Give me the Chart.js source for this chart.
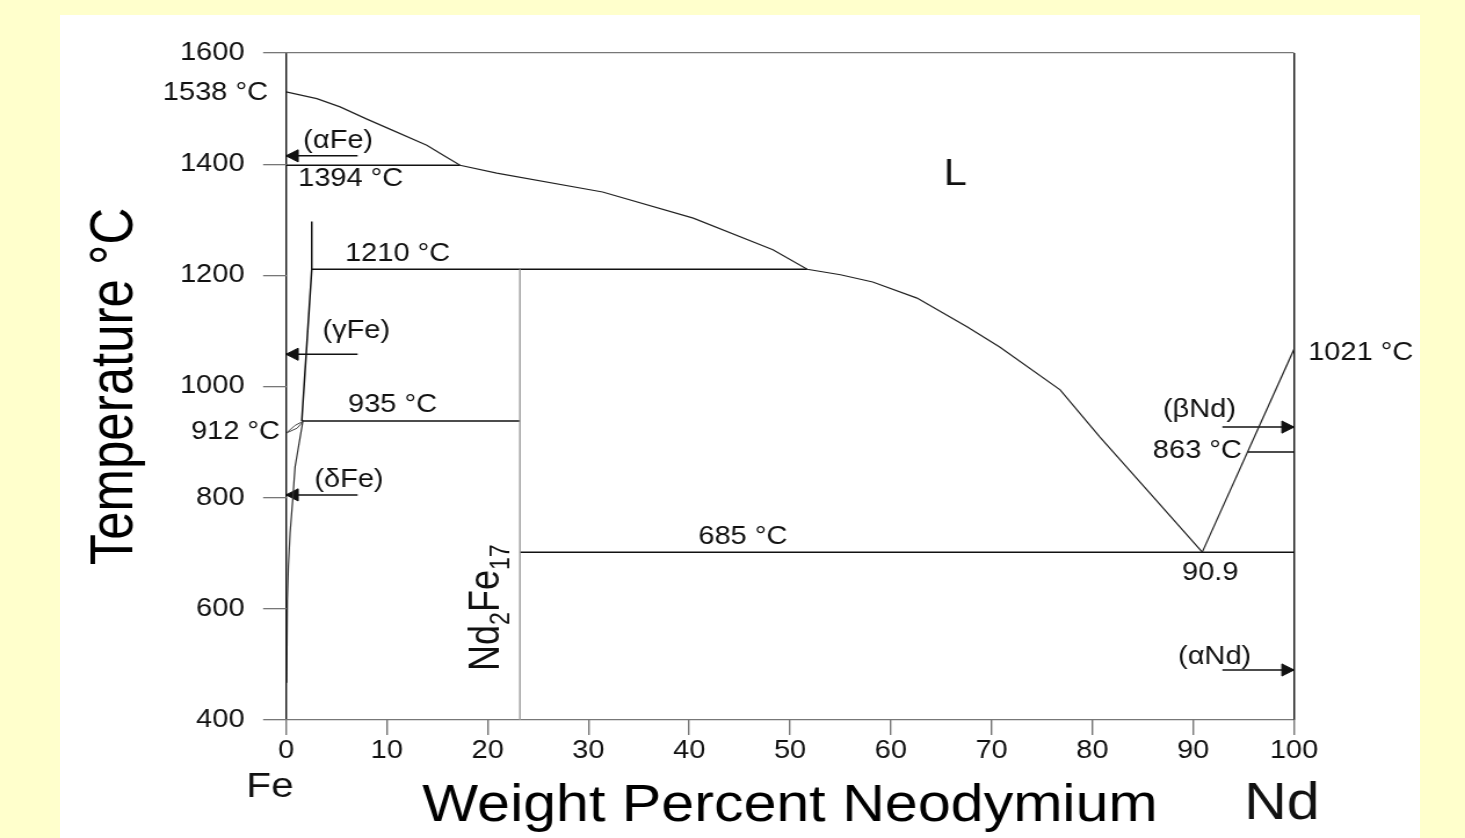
<!DOCTYPE html>
<html>
<head>
<meta charset="utf-8">
<title>Fe-Nd phase diagram</title>
<script src="https://cdn.jsdelivr.net/npm/chart.js@4.4.1/dist/chart.umd.min.js"></script>
<style>
  html, body { margin: 0; padding: 0; background: #ffffcc; width: 1465px; height: 838px; overflow: hidden; }
  #panel { position: absolute; left: 60px; top: 15px; width: 1360px; height: 823px; background: #fff; }
  /* the source figure is stretched sideways, so the canvas is too */
  #chart { position: absolute; left: 0; top: 0; width: 1263px; height: 838px; transform: scaleX(1.16); transform-origin: 0 0; }
</style>
</head>
<body>
<div id="panel"></div>
<canvas id="chart" width="1263" height="838"></canvas>
<script>
// liquidus, Fe side down to the eutectic
const liquidusX = [0, 3.05, 5.36, 8.02, 10.3, 13.96, 15.6, 17.26, 20.9, 31.4, 40.4, 48.3, 51.7, 55.0, 58.2, 62.6, 67.6, 70.8, 76.8, 80.75, 85.7, 90.9];
const liquidusY = [1530, 1518, 1503, 1481, 1463, 1434, 1416, 1398, 1384, 1350, 1303, 1246, 1211, 1201, 1188, 1159, 1107, 1071, 994, 909, 808, 702];
// liquidus, Nd side
const ndLiquidusX = [90.9, 100];
const ndLiquidusY = [702, 1067];
// (gammaFe) boundary
const gammaX = [2.55, 2.55, 1.56];
const gammaY = [1297, 1211, 938];
// lower Fe boundary
const deltaX = [1.69, 0.89, 0.66, 0.40, 0.23, 0.13, 0.07];
const deltaY = [940, 855, 796, 737, 676, 616, 467];
// small lens at 912
const lensUpperX = [0, 0.89, 1.75];
const lensUpperY = [916, 930, 938];
const lensLowerX = [0, 1.09, 1.75];
const lensLowerY = [916, 925, 938];

// horizontal isotherms
const isoTemp = [1398, 1211, 938, 702, 882];
const isoFrom = [0, 2.55, 1.6, 23.2, 95.4];
const isoTo = [17.26, 51.7, 23.2, 100, 100];

// Nd2Fe17 line compound
const compoundWt = 23.2;
const compoundTemps = [1211, 400];

// arrows to the terminal phases
const arrowFrom = [7.1, 7.1, 7.1, 92.9, 92.9];
const arrowTo = [0, 0, 0, 100, 100];
const arrowTemp = [1415, 1058, 805, 927, 490];

// text labels
const labelText = ['1538 °C', '(αFe)', '1394 °C', 'L', '1210 °C', '(γFe)', '935 °C', '912 °C', '(δFe)',
  '685 °C', '90.9', '(βNd)', '863 °C', '1021 °C', '(αNd)', 'Fe', 'Nd'];
const labelX = [-1.8, 1.7, 1.2, 66.4, 5.85, 3.6, 6.15, -0.6, 2.8, 40.9, 91.7, 87.0, 86.0, 101.4, 88.5, -1.6, 98.8];
const labelY = [1528, 1442, 1373, 1380, 1238, 1100, 967, 918, 832, 729, 664, 958, 884, 1060, 513, 278, 247];
const compoundLabelX = 19.64;
const compoundLabelY = 602;

const FONT = '"Liberation Sans", Arial, sans-serif';
const labelAlign = { '1538 °C': 'right', '912 °C': 'right', 'L': 'center', '90.9': 'center', 'Fe': 'center', 'Nd': 'center' };
const labelSize = { 'L': 36, 'Fe': 35, 'Nd': 51 };
const headInset = 0.8;

Chart.defaults.font.family = FONT;
Chart.defaults.color = '#111';

function lineSet(xs, ys, color, width) {
  return {
    data: xs.map((v, i) => ({ x: v, y: ys[i] })),
    showLine: true,
    borderColor: color,
    borderWidth: width,
    pointRadius: 0,
    fill: false
  };
}

const datasets = [
  lineSet(liquidusX, liquidusY, '#222', 1.2),
  lineSet(ndLiquidusX, ndLiquidusY, '#222', 1.2),
  lineSet(gammaX, gammaY, '#111', 1.5),
  lineSet(deltaX, deltaY, '#333', 1.2),
  lineSet(lensUpperX, lensUpperY, '#444', 1),
  lineSet(lensLowerX, lensLowerY, '#444', 1),
  lineSet([compoundWt, compoundWt], compoundTemps, '#999', 1.4)
];
isoTemp.forEach((t, i) => datasets.push(lineSet([isoFrom[i], isoTo[i]], [t, t], '#111', 1.5)));
arrowTemp.forEach((t, i) => datasets.push(lineSet([arrowFrom[i], arrowTo[i]], [t, t], '#111', 1.5)));
datasets.push({
  data: arrowTemp.map((t, i) => ({ x: arrowTo[i] === 0 ? headInset : 100 - headInset, y: t })),
  showLine: false,
  pointStyle: 'triangle',
  pointRadius: 7,
  pointRotation: c => (arrowTo[c.dataIndex] === 0 ? -90 : 90),
  backgroundColor: '#111',
  borderColor: '#111',
  borderWidth: 1
});

const textPlugin = {
  id: 'phaseText',
  afterDatasetsDraw(chart) {
    const { ctx, scales: { x, y } } = chart;
    ctx.save();
    ctx.fillStyle = '#111';
    ctx.textBaseline = 'middle';
    labelText.forEach((t, i) => {
      ctx.font = (labelSize[t] || 25) + 'px ' + FONT;
      ctx.textAlign = labelAlign[t] || 'left';
      ctx.fillText(t, x.getPixelForValue(labelX[i]), y.getPixelForValue(labelY[i]));
    });

    // Nd2Fe17 written upwards, with subscripts
    const parts = [['Nd', 36, 0], ['2', 23, 9], ['Fe', 36, 0], ['17', 23, 9]];
    ctx.translate(x.getPixelForValue(compoundLabelX), y.getPixelForValue(compoundLabelY));
    ctx.rotate(-Math.PI / 2);
    ctx.textAlign = 'left';
    ctx.textBaseline = 'alphabetic';
    let total = 0;
    parts.forEach(p => { ctx.font = p[1] + 'px ' + FONT; total += ctx.measureText(p[0]).width; });
    let cx = -total / 2;
    parts.forEach(p => {
      ctx.font = p[1] + 'px ' + FONT;
      ctx.fillText(p[0], cx, 13 + p[2]);
      cx += ctx.measureText(p[0]).width;
    });
    ctx.restore();
  }
};

new Chart(document.getElementById('chart'), {
  type: 'scatter',
  data: { datasets },
  plugins: [textPlugin],
  options: {
    responsive: false,
    animation: false,
    layout: { padding: { left: 0, top: 53, right: 147.5, bottom: 0 } },
    plugins: { legend: { display: false }, tooltip: { enabled: false } },
    scales: {
      x: {
        type: 'linear',
        min: 0,
        max: 100,
        ticks: { stepSize: 10, font: { size: 25 }, padding: 1, maxRotation: 0, autoSkip: false, callback: v => String(v) },
        grid: {
          color: c => (c.tick && (c.tick.value === 0 || c.tick.value === 100) ? '#111' : 'rgba(0,0,0,0)'),
          lineWidth: 1.4,
          tickColor: '#777',
          tickWidth: 1.4,
          tickLength: 15
        },
        border: { display: false },
        title: { display: true, text: 'Weight Percent Neodymium', color: '#000', font: { size: 51 }, padding: { top: 0, bottom: 0 } },
        afterFit: s => { s.height = 118; }
      },
      y: {
        type: 'linear',
        min: 400,
        max: 1600,
        ticks: { stepSize: 200, font: { size: 25 }, padding: 16, callback: v => String(v) },
        grid: {
          color: c => (c.tick && (c.tick.value === 400 || c.tick.value === 1600) ? '#777' : 'rgba(0,0,0,0)'),
          lineWidth: 1.3,
          tickColor: '#777',
          tickWidth: 1.3,
          tickLength: 19.8
        },
        border: { display: false },
        title: { display: true, text: 'Temperature °C', color: '#000', font: { size: 51 }, padding: { top: 69, bottom: 0 } },
        afterFit: s => { s.width = 246.6; }
      }
    }
  }
});
</script>
</body>
</html>
